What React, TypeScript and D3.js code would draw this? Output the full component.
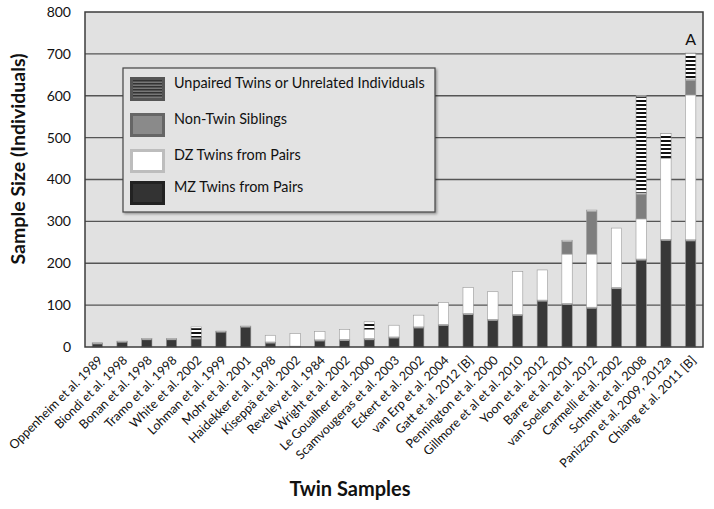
import React from "react";
import { scaleBand, scaleLinear, stack } from "d3";

// study labels, left to right
const studies = [
  "Oppenheim et al. 1989",
  "Biondi et al. 1998",
  "Bonan et al. 1998",
  "Tramo et al. 1998",
  "White et al. 2002",
  "Lohman et al. 1999",
  "Mohr et al. 2001",
  "Haidekker et al. 1998",
  "Kiseppä et al. 2002",
  "Reveley et al. 1984",
  "Wright et al. 2002",
  "Le Goualher et al. 2000",
  "Scamvougeras et al. 2003",
  "Eckert et al. 2002",
  "van Erp et al. 2004",
  "Gatt et al. 2012 [B]",
  "Pennington et al. 2000",
  "Gillmore et al et al. 2010",
  "Yoon et al. 2012",
  "Barre et al. 2001",
  "van Soelen et al. 2012",
  "Carmelli et al. 2002",
  "Schmitt et al. 2008",
  "Panizzon et al. 2009, 2012a",
  "Chiang et al. 2011 [B]",
];

// series (individuals)
const mzTwins = [10, 14, 20, 20, 22, 38, 50, 12, 2, 17, 18, 20, 24, 48, 54, 80, 66, 78, 112, 104, 95, 142, 210, 257, 256];
const dzTwins = [0, 0, 0, 0, 0, 0, 0, 16, 30, 20, 24, 22, 28, 28, 52, 62, 66, 102, 72, 118, 127, 142, 96, 193, 346];
const nonTwinSibs = [0, 0, 0, 0, 0, 0, 0, 0, 0, 0, 0, 0, 0, 0, 0, 0, 0, 0, 0, 33, 105, 0, 62, 0, 38];
const unpaired = [0, 0, 0, 0, 26, 0, 0, 0, 0, 0, 0, 18, 0, 0, 0, 0, 0, 0, 0, 0, 0, 0, 232, 60, 62];

const yTicks = [0, 100, 200, 300, 400, 500, 600, 700, 800];
const legendLabels = [
  "Unpaired Twins or Unrelated Individuals",
  "Non-Twin Siblings",
  "DZ Twins from Pairs",
  "MZ Twins from Pairs",
];

const keys = ["mz", "dz", "sib", "unp"];
const fills: Record<string, string> = {
  mz: "#383838",
  dz: "#ffffff",
  sib: "#7e7e7e",
  unp: "url(#stripes)",
};

export default function App() {
  const width = 714;
  const height = 509;
  const m = { left: 85, right: 11, top: 12, bottom: 162 };
  const innerW = width - m.left - m.right;
  const innerH = height - m.top - m.bottom;

  const rows = studies.map((s, i) => ({
    study: s,
    mz: mzTwins[i],
    dz: dzTwins[i],
    sib: nonTwinSibs[i],
    unp: unpaired[i],
  }));
  const series = stack<any>().keys(keys)(rows);

  const x = scaleBand().domain(studies).range([0, innerW]).paddingInner(0.58).paddingOuter(0.29);
  const y = scaleLinear().domain([0, 800]).range([innerH, 0]);

  const font = "Lato, 'Open Sans', sans-serif";

  return (
    <svg
      width={width}
      height={height}
      style={{ position: "absolute", left: 0, top: 0, background: "#fff" }}
    >
      <defs>
        <pattern id="stripes" width={4} height={4} patternUnits="userSpaceOnUse">
          <rect width={4} height={4} fill="#fff" />
          <rect width={4} height={2} fill="#111" />
        </pattern>
        <pattern id="legStripes" width={4} height={3} patternUnits="userSpaceOnUse">
          <rect width={4} height={3} fill="#777" />
          <rect width={4} height={1.5} fill="#333" />
        </pattern>
        <filter id="shadow" x="-5%" y="-5%" width="110%" height="115%">
          <feDropShadow dx={1.5} dy={1.5} stdDeviation={1.2} floodColor="#000" floodOpacity={0.35} />
        </filter>
      </defs>

      <g transform={`translate(${m.left},${m.top})`}>
        <rect width={innerW} height={innerH} fill="#e1e1e1" />
        {yTicks.slice(1, -1).map((t) => (
          <line key={t} x1={0} x2={innerW} y1={y(t)} y2={y(t)} stroke="#555" strokeWidth={1.3} />
        ))}

        {series.map((s) => (
          <g key={s.key}>
            {s.map((d, i) => {
              const h = y(d[0]) - y(d[1]);
              if (h <= 0) return null;
              return (
                <g key={i}>
                  <rect
                    x={x(studies[i])}
                    y={y(d[1])}
                    width={x.bandwidth()}
                    height={h}
                    fill={fills[s.key]}
                    stroke="#9a9a9a"
                    strokeWidth={0.6}
                  />
                  <rect
                    x={x(studies[i])! + 0.5}
                    y={y(d[1])}
                    width={x.bandwidth() - 1}
                    height={Math.min(1.5, h)}
                    fill="#ffffff"
                    opacity={s.key === "dz" ? 0 : 0.55}
                  />
                </g>
              );
            })}
          </g>
        ))}

        <rect width={innerW} height={innerH} fill="none" stroke="#3c3c3c" strokeWidth={1.5} />

        {yTicks.map((t) => (
          <text
            key={t}
            x={-14}
            y={y(t)}
            dy="0.35em"
            textAnchor="end"
            fontFamily={font}
            fontSize={14}
            fill="#111"
          >
            {t}
          </text>
        ))}

        {studies.map((s) => (
          <text
            key={s}
            transform={`translate(${x(s)! + x.bandwidth() / 2 + 3},${innerH + 11}) rotate(-45)`}
            textAnchor="end"
            dy="0.35em"
            fontFamily={font}
            fontSize={12.5}
            fill="#111"
          >
            {s}
          </text>
        ))}

        <text
          x={x(studies[studies.length - 1])! + x.bandwidth() / 2}
          y={y(700) - 9}
          textAnchor="middle"
          fontFamily={font}
          fontSize={16}
          fill="#111"
        >
          A
        </text>

        {/* legend */}
        <g transform="translate(38,56)">
          <rect width={312} height={144} fill="#e3e3e3" stroke="#444" strokeWidth={1.2} filter="url(#shadow)" />
          {legendLabels.map((lab, i) => {
            const fill = ["url(#legStripes)", "#8a8a8a", "#ffffff", "#333"][i];
            const edge = ["#555", "#666", "#bdbdbd", "#222"][i];
            const yy = [9, 45, 81, 113][i];
            return (
              <g key={lab} transform={`translate(7,${yy})`}>
                <rect width={35} height={24} fill={edge} />
                <rect x={3} y={3} width={29} height={18} fill={fill} />
                <text x={44} y={6} dy="0.35em" fontFamily={font} fontSize={14.4} fill="#111">
                  {lab}
                </text>
              </g>
            );
          })}
        </g>
      </g>

      <text
        transform={`translate(25,159) rotate(-90)`}
        textAnchor="middle"
        fontFamily={font}
        fontWeight="bold"
        fontSize={19.5}
        fill="#111"
      >
        Sample Size (Individuals)
      </text>
      <text
        x={350}
        y={496}
        textAnchor="middle"
        fontFamily={font}
        fontWeight="bold"
        fontSize={20}
        fill="#111"
      >
        Twin Samples
      </text>
    </svg>
  );
}
